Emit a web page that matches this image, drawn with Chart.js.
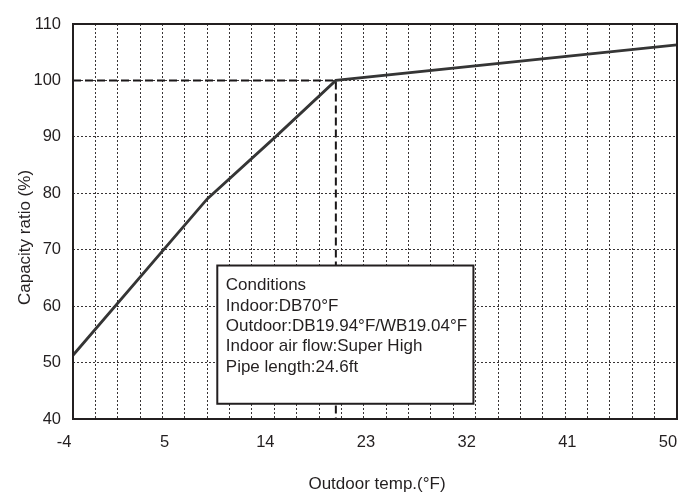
<!DOCTYPE html>
<html>
<head>
<meta charset="utf-8">
<script src="https://cdn.jsdelivr.net/npm/chart.js@4.4.1/dist/chart.umd.min.js"></script>
<style>
  html, body { margin: 0; padding: 0; background: #ffffff; }
  #wrap { width: 678px; height: 493px; }
</style>
</head>
<body>
<div id="wrap"><canvas id="c" width="678" height="493"></canvas></div>
<script>
// ---- data ----
const curveTemp = [-4, 8, 14.1, 19.5, 50];          // Outdoor temp (°F)
const curveCap  = [51.3, 79, 90, 100, 106.3];        // Capacity ratio (%)
const refTemp   = [-4, 19.5, 19.5];                  // dashed guide to rated point
const refCap    = [100, 100, 40];
const xLabelTicks = [-4, 5, 14, 23, 32, 41, 50];
const yTicks      = [40, 50, 60, 70, 80, 90, 100, 110];
const xMin = -4, xMax = 50, xGridStep = 2;
const yMin = 40, yMax = 110, yStep = 10;
const xTitle = 'Outdoor temp.(°F)';
const yTitle = 'Capacity ratio (%)';
const conditionLines = [
  'Conditions',
  'Indoor:DB70°F',
  'Outdoor:DB19.94°F/WB19.04°F',
  'Indoor air flow:Super High',
  'Pipe length:24.6ft'
];

const FONT = '"Liberation Sans", Arial, Helvetica, sans-serif';
const INK = '#231f20';
const GRID = 'rgba(45,41,42,0.95)';

const toPts = (xs, ys) => xs.map((x, i) => ({ x: x, y: ys[i] }));

const decor = {
  id: 'decor',
  afterDatasetsDraw(chart) {
    const ctx = chart.ctx;
    const a = chart.chartArea;
    const xs = chart.scales.x, ys = chart.scales.y;
    ctx.save();
    // plot frame
    ctx.strokeStyle = INK;
    ctx.lineWidth = 2;
    ctx.setLineDash([]);
    ctx.strokeRect(a.left, a.top, a.right - a.left, a.bottom - a.top);

    // conditions box
    const bx = xs.getPixelForValue(8.9), bx2 = xs.getPixelForValue(31.8);
    const by = ys.getPixelForValue(67.2), by2 = ys.getPixelForValue(42.7);
    ctx.fillStyle = '#ffffff';
    ctx.fillRect(bx, by, bx2 - bx, by2 - by);
    ctx.strokeStyle = INK;
    ctx.lineWidth = 2;
    ctx.strokeRect(bx, by, bx2 - bx, by2 - by);
    ctx.fillStyle = INK;
    ctx.font = '17px ' + FONT;
    ctx.textAlign = 'left';
    ctx.textBaseline = 'middle';
    conditionLines.forEach((t, i) => {
      ctx.fillText(t, bx + 8.5, by + 20 + i * 20.4);
    });

    // axis titles
    ctx.font = '17px ' + FONT;
    ctx.textAlign = 'center';
    ctx.textBaseline = 'middle';
    ctx.fillText(xTitle, (a.left + a.right) / 2 + 2, a.bottom + 65);
    ctx.translate(a.left - 48, (a.top + a.bottom) / 2 + 16);
    ctx.rotate(-Math.PI / 2);
    ctx.fillText(yTitle, 0, 0);
    ctx.restore();
  }
};

new Chart(document.getElementById('c'), {
  type: 'scatter',
  data: {
    datasets: [
      {
        data: toPts(curveTemp, curveCap),
        showLine: true,
        borderColor: '#353535',
        borderWidth: 2.8,
        pointRadius: 0,
        tension: 0
      },
      {
        data: toPts(refTemp, refCap),
        showLine: true,
        borderColor: '#1a1718',
        borderWidth: 2,
        borderDash: [8, 4],
        pointRadius: 0,
        tension: 0
      }
    ]
  },
  options: {
    responsive: false,
    animation: false,
    devicePixelRatio: 1,
    layout: { padding: { left: 0, right: 1, top: 24, bottom: 0 } },
    plugins: { legend: { display: false }, tooltip: { enabled: false } },
    scales: {
      x: {
        type: 'linear',
        min: xMin, max: xMax,
        afterBuildTicks: (s) => {
          const t = [];
          for (let v = xMin; v <= xMax; v += 1) t.push({ value: v });
          s.ticks = t;
        },
        afterFit: (s) => { s.height = 74; s.paddingLeft = 0; s.paddingRight = 0; },
        ticks: {
          autoSkip: false,
          maxRotation: 0,
          minRotation: 0,
          padding: 14,
          labelOffset: -9,
          color: INK,
          font: { family: FONT, size: 16.5 },
          callback: (v) => xLabelTicks.includes(v) ? String(v) : ''
        },
        grid: {
          drawTicks: false,
          lineWidth: 1,
          color: (c) => {
            const v = c.tick ? c.tick.value : null;
            if (v === null || v === xMin || v === xMax) return 'rgba(0,0,0,0)';
            return ((v - xMin) % xGridStep === 0) ? GRID : 'rgba(0,0,0,0)';
          }
        },
        border: { display: false, dash: [2, 2] }
      },
      y: {
        type: 'linear',
        min: yMin, max: yMax,
        afterBuildTicks: (s) => { s.ticks = yTicks.map(v => ({ value: v })); },
        afterFit: (s) => { s.width = 73; s.paddingTop = 0; s.paddingBottom = 0; },
        ticks: {
          stepSize: yStep,
          padding: 12,
          color: INK,
          font: { family: FONT, size: 16.5 }
        },
        grid: {
          drawTicks: false,
          lineWidth: 1,
          color: (c) => {
            const v = c.tick ? c.tick.value : null;
            if (v === null || v === yMin || v === yMax) return 'rgba(0,0,0,0)';
            return GRID;
          }
        },
        border: { display: false, dash: [2, 2] }
      }
    }
  },
  plugins: [decor]
});
</script>
</body>
</html>
